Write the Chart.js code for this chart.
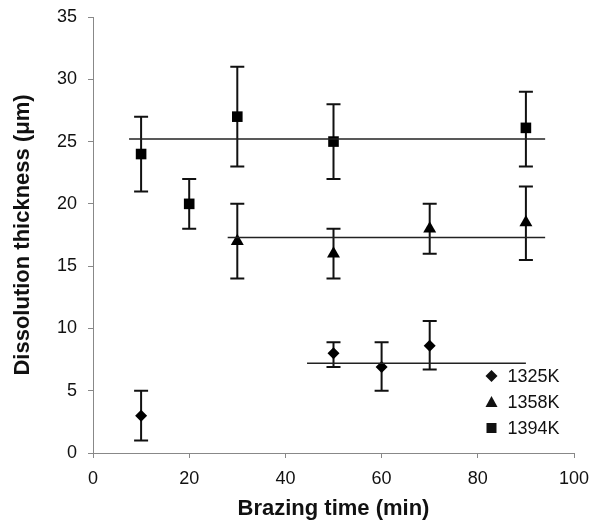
<!DOCTYPE html>
<html>
<head>
<meta charset="utf-8">
<script src="https://cdn.jsdelivr.net/npm/chart.js@4/dist/chart.umd.min.js"></script>
<style>
  html, body { margin: 0; padding: 0; background: #fff; }
  #wrap { width: 603px; height: 525px; }
</style>
</head>
<body>
<div id="wrap"><canvas id="chart" width="603" height="525"></canvas></div>
<script>
// 1325K
const times1325 = [10, 50, 60, 70];
const thick1325 = [3, 8, 6.9, 8.6];
const low1325 = [1, 6.9, 5, 6.7];
const high1325 = [5, 8.9, 8.9, 10.6];

// 1358K
const times1358 = [30, 50, 70, 90];
const thick1358 = [17, 16, 18, 18.5];
const low1358 = [14, 14, 16, 15.5];
const high1358 = [20, 18, 20, 21.4];

// 1394K
const times1394 = [10, 20, 30, 50, 90];
const thick1394 = [24, 20, 27, 25, 26.1];
const low1394 = [21, 18, 23, 22, 23];
const high1394 = [27, 22, 31, 28, 29];

// horizontal average lines (1325K, 1358K, 1394K)
const fitStart = [44.5, 28, 7.5];
const fitEnd = [90, 94, 94];
const fitLevel = [7.2, 17.3, 25.2];

const seriesLabels = ["1325K", "1358K", "1394K"];
const seriesStyles = ["rectRot", "triangle", "rect"];

function pts(xs, ys) {
    return xs.map((x, i) => ({ x: x, y: ys[i] }));
}

const errorBars = [
    { xs: times1325, lo: low1325, hi: high1325 },
    { xs: times1358, lo: low1358, hi: high1358 },
    { xs: times1394, lo: low1394, hi: high1394 }
];

const errorBarPlugin = {
    id: "errorBars",
    beforeDatasetsDraw(chart) {
        const { ctx, scales: { x, y } } = chart;
        ctx.save();
        ctx.strokeStyle = "#111";
        ctx.lineWidth = 2;
        errorBars.forEach(s => {
            s.xs.forEach((t, i) => {
                const px = x.getPixelForValue(t);
                const top = y.getPixelForValue(s.hi[i]);
                const bot = y.getPixelForValue(s.lo[i]);
                ctx.beginPath();
                ctx.moveTo(px, top); ctx.lineTo(px, bot);
                ctx.moveTo(px - 7, top); ctx.lineTo(px + 7, top);
                ctx.moveTo(px - 7, bot); ctx.lineTo(px + 7, bot);
                ctx.stroke();
            });
        });
        ctx.restore();
    }
};

// legend in the lower right corner of the plot
const legendPlugin = {
    id: "cornerLegend",
    afterDraw(chart) {
        const { ctx, chartArea } = chart;
        const mx = chartArea.right - 82.5;
        const rows = [chartArea.bottom - 77, chartArea.bottom - 51, chartArea.bottom - 25];
        ctx.save();
        ctx.fillStyle = "#111";
        ctx.font = "18px 'Liberation Sans', Arial, sans-serif";
        ctx.textBaseline = "middle";
        rows.forEach((yy, i) => {
            ctx.beginPath();
            if (i === 0) {
                ctx.moveTo(mx, yy - 6); ctx.lineTo(mx + 6, yy);
                ctx.lineTo(mx, yy + 6); ctx.lineTo(mx - 6, yy);
            } else if (i === 1) {
                ctx.moveTo(mx, yy - 6); ctx.lineTo(mx + 6, yy + 5);
                ctx.lineTo(mx - 6, yy + 5);
            } else {
                ctx.rect(mx - 5, yy - 5, 10, 10);
            }
            ctx.closePath();
            ctx.fill();
            ctx.fillText(seriesLabels[i], mx + 16, yy + 1);
        });
        ctx.restore();
    }
};

const markerSets = [
    { x: times1325, y: thick1325, r: 6 },
    { x: times1358, y: thick1358, r: 7.5 },
    { x: times1394, y: thick1394, r: 7.5 }
];

const datasets = [];
markerSets.forEach((m, i) => {
    datasets.push({
        type: "line",
        label: seriesLabels[i] + " avg",
        data: [{ x: fitStart[i], y: fitLevel[i] }, { x: fitEnd[i], y: fitLevel[i] }],
        borderColor: "#222",
        borderWidth: 1.5,
        pointRadius: 0,
        fill: false
    });
    datasets.push({
        type: "scatter",
        label: seriesLabels[i],
        data: pts(m.x, m.y),
        pointStyle: seriesStyles[i],
        pointRadius: m.r,
        pointHoverRadius: m.r,
        backgroundColor: "#000",
        borderColor: "#000",
        borderWidth: 0
    });
});

const tickFont = { family: "'Liberation Sans', Arial, sans-serif", size: 18 };
const titleFont = { family: "'Liberation Sans', Arial, sans-serif", size: 22, weight: "bold" };

new Chart(document.getElementById("chart").getContext("2d"), {
    type: "scatter",
    data: { datasets: datasets },
    options: {
        responsive: false,
        animation: false,
        layout: { padding: { top: 17, right: 29, left: 4, bottom: 0 } },
        plugins: {
            legend: { display: false },
            tooltip: { enabled: false }
        },
        scales: {
            x: {
                type: "linear",
                min: 0, max: 100,
                ticks: { stepSize: 20, color: "#111", font: tickFont, padding: 10 },
                grid: { drawOnChartArea: false, drawTicks: true, tickLength: 5, color: "#888" },
                border: { color: "#888", width: 1 },
                title: { display: true, text: "Brazing time (min)", color: "#111", font: titleFont, padding: { top: 0, bottom: 3 } },
                afterFit(scale) { scale.height = 72; }
            },
            y: {
                min: 0, max: 35,
                ticks: { stepSize: 5, color: "#111", font: tickFont, padding: 11 },
                grid: { drawOnChartArea: false, drawTicks: true, tickLength: 5, color: "#888" },
                border: { color: "#888", width: 1 },
                title: { display: true, text: "Dissolution thickness (μm)", color: "#111", font: titleFont, padding: { top: 6, bottom: 0 } },
                afterFit(scale) {
                    scale.width = 89;
                    scale.paddingTop = 0;
                    scale.paddingBottom = 0;
                }
            }
        }
    },
    plugins: [errorBarPlugin, legendPlugin]
});
</script>
</body>
</html>
